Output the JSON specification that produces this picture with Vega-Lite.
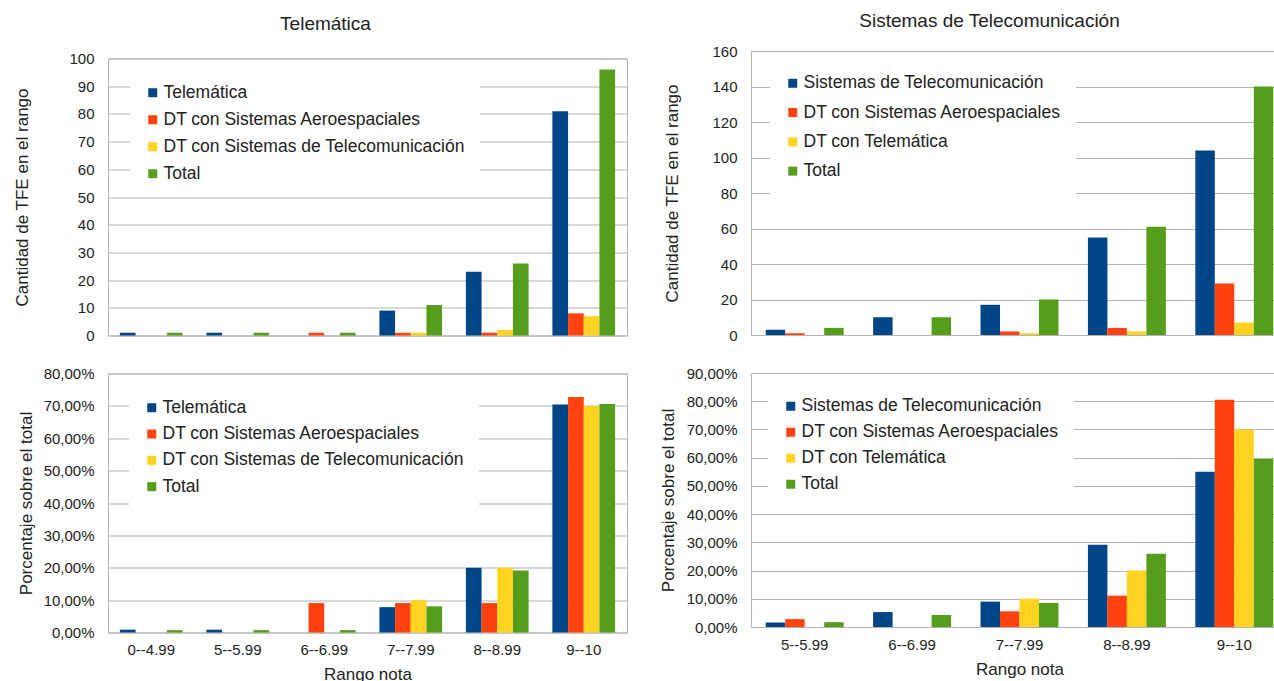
{
  "$schema": "https://vega.github.io/schema/vega-lite/v6.json",
  "padding": {"left": 13, "top": 11, "right": 0, "bottom": 0},
  "background": "white",
  "datasets": {
    "tl": [
      {"rango": "0--4.99", "serie": "Telemática", "valor": 1},
      {"rango": "0--4.99", "serie": "DT con Sistemas Aeroespaciales", "valor": 0},
      {"rango": "0--4.99", "serie": "DT con Sistemas de Telecomunicación", "valor": 0},
      {"rango": "0--4.99", "serie": "Total", "valor": 1},
      {"rango": "5--5.99", "serie": "Telemática", "valor": 1},
      {"rango": "5--5.99", "serie": "DT con Sistemas Aeroespaciales", "valor": 0},
      {"rango": "5--5.99", "serie": "DT con Sistemas de Telecomunicación", "valor": 0},
      {"rango": "5--5.99", "serie": "Total", "valor": 1},
      {"rango": "6--6.99", "serie": "Telemática", "valor": 0},
      {"rango": "6--6.99", "serie": "DT con Sistemas Aeroespaciales", "valor": 1},
      {"rango": "6--6.99", "serie": "DT con Sistemas de Telecomunicación", "valor": 0},
      {"rango": "6--6.99", "serie": "Total", "valor": 1},
      {"rango": "7--7.99", "serie": "Telemática", "valor": 9},
      {"rango": "7--7.99", "serie": "DT con Sistemas Aeroespaciales", "valor": 1},
      {"rango": "7--7.99", "serie": "DT con Sistemas de Telecomunicación", "valor": 1},
      {"rango": "7--7.99", "serie": "Total", "valor": 11},
      {"rango": "8--8.99", "serie": "Telemática", "valor": 23},
      {"rango": "8--8.99", "serie": "DT con Sistemas Aeroespaciales", "valor": 1},
      {"rango": "8--8.99", "serie": "DT con Sistemas de Telecomunicación", "valor": 2},
      {"rango": "8--8.99", "serie": "Total", "valor": 26},
      {"rango": "9--10", "serie": "Telemática", "valor": 81},
      {"rango": "9--10", "serie": "DT con Sistemas Aeroespaciales", "valor": 8},
      {"rango": "9--10", "serie": "DT con Sistemas de Telecomunicación", "valor": 7},
      {"rango": "9--10", "serie": "Total", "valor": 96}
    ],
    "bl": [
      {"rango": "0--4.99", "serie": "Telemática", "valor": 0.0087},
      {"rango": "0--4.99", "serie": "DT con Sistemas Aeroespaciales", "valor": 0},
      {"rango": "0--4.99", "serie": "DT con Sistemas de Telecomunicación", "valor": 0},
      {"rango": "0--4.99", "serie": "Total", "valor": 0.0074},
      {"rango": "5--5.99", "serie": "Telemática", "valor": 0.0087},
      {"rango": "5--5.99", "serie": "DT con Sistemas Aeroespaciales", "valor": 0},
      {"rango": "5--5.99", "serie": "DT con Sistemas de Telecomunicación", "valor": 0},
      {"rango": "5--5.99", "serie": "Total", "valor": 0.0074},
      {"rango": "6--6.99", "serie": "Telemática", "valor": 0},
      {"rango": "6--6.99", "serie": "DT con Sistemas Aeroespaciales", "valor": 0.0909},
      {"rango": "6--6.99", "serie": "DT con Sistemas de Telecomunicación", "valor": 0},
      {"rango": "6--6.99", "serie": "Total", "valor": 0.0074},
      {"rango": "7--7.99", "serie": "Telemática", "valor": 0.0783},
      {"rango": "7--7.99", "serie": "DT con Sistemas Aeroespaciales", "valor": 0.0909},
      {"rango": "7--7.99", "serie": "DT con Sistemas de Telecomunicación", "valor": 0.10},
      {"rango": "7--7.99", "serie": "Total", "valor": 0.0809},
      {"rango": "8--8.99", "serie": "Telemática", "valor": 0.20},
      {"rango": "8--8.99", "serie": "DT con Sistemas Aeroespaciales", "valor": 0.0909},
      {"rango": "8--8.99", "serie": "DT con Sistemas de Telecomunicación", "valor": 0.20},
      {"rango": "8--8.99", "serie": "Total", "valor": 0.1912},
      {"rango": "9--10", "serie": "Telemática", "valor": 0.7043},
      {"rango": "9--10", "serie": "DT con Sistemas Aeroespaciales", "valor": 0.7273},
      {"rango": "9--10", "serie": "DT con Sistemas de Telecomunicación", "valor": 0.70},
      {"rango": "9--10", "serie": "Total", "valor": 0.7059}
    ],
    "tr": [
      {"rango": "5--5.99", "serie": "Sistemas de Telecomunicación", "valor": 3},
      {"rango": "5--5.99", "serie": "DT con Sistemas Aeroespaciales", "valor": 1},
      {"rango": "5--5.99", "serie": "DT con Telemática", "valor": 0},
      {"rango": "5--5.99", "serie": "Total", "valor": 4},
      {"rango": "6--6.99", "serie": "Sistemas de Telecomunicación", "valor": 10},
      {"rango": "6--6.99", "serie": "DT con Sistemas Aeroespaciales", "valor": 0},
      {"rango": "6--6.99", "serie": "DT con Telemática", "valor": 0},
      {"rango": "6--6.99", "serie": "Total", "valor": 10},
      {"rango": "7--7.99", "serie": "Sistemas de Telecomunicación", "valor": 17},
      {"rango": "7--7.99", "serie": "DT con Sistemas Aeroespaciales", "valor": 2},
      {"rango": "7--7.99", "serie": "DT con Telemática", "valor": 1},
      {"rango": "7--7.99", "serie": "Total", "valor": 20},
      {"rango": "8--8.99", "serie": "Sistemas de Telecomunicación", "valor": 55},
      {"rango": "8--8.99", "serie": "DT con Sistemas Aeroespaciales", "valor": 4},
      {"rango": "8--8.99", "serie": "DT con Telemática", "valor": 2},
      {"rango": "8--8.99", "serie": "Total", "valor": 61},
      {"rango": "9--10", "serie": "Sistemas de Telecomunicación", "valor": 104},
      {"rango": "9--10", "serie": "DT con Sistemas Aeroespaciales", "valor": 29},
      {"rango": "9--10", "serie": "DT con Telemática", "valor": 7},
      {"rango": "9--10", "serie": "Total", "valor": 140}
    ],
    "br": [
      {"rango": "5--5.99", "serie": "Sistemas de Telecomunicación", "valor": 0.0159},
      {"rango": "5--5.99", "serie": "DT con Sistemas Aeroespaciales", "valor": 0.0278},
      {"rango": "5--5.99", "serie": "DT con Telemática", "valor": 0},
      {"rango": "5--5.99", "serie": "Total", "valor": 0.0170},
      {"rango": "6--6.99", "serie": "Sistemas de Telecomunicación", "valor": 0.0529},
      {"rango": "6--6.99", "serie": "DT con Sistemas Aeroespaciales", "valor": 0},
      {"rango": "6--6.99", "serie": "DT con Telemática", "valor": 0},
      {"rango": "6--6.99", "serie": "Total", "valor": 0.0426},
      {"rango": "7--7.99", "serie": "Sistemas de Telecomunicación", "valor": 0.0899},
      {"rango": "7--7.99", "serie": "DT con Sistemas Aeroespaciales", "valor": 0.0556},
      {"rango": "7--7.99", "serie": "DT con Telemática", "valor": 0.10},
      {"rango": "7--7.99", "serie": "Total", "valor": 0.0851},
      {"rango": "8--8.99", "serie": "Sistemas de Telecomunicación", "valor": 0.2910},
      {"rango": "8--8.99", "serie": "DT con Sistemas Aeroespaciales", "valor": 0.1111},
      {"rango": "8--8.99", "serie": "DT con Telemática", "valor": 0.20},
      {"rango": "8--8.99", "serie": "Total", "valor": 0.2596},
      {"rango": "9--10", "serie": "Sistemas de Telecomunicación", "valor": 0.5503},
      {"rango": "9--10", "serie": "DT con Sistemas Aeroespaciales", "valor": 0.8056},
      {"rango": "9--10", "serie": "DT con Telemática", "valor": 0.70},
      {"rango": "9--10", "serie": "Total", "valor": 0.5957}
    ]
  },
  "align": "none",
  "spacing": 30,
  "resolve": {"scale": {"color": "independent", "x": "independent", "y": "independent", "xOffset": "independent"}, "legend": {"color": "independent"}},
  "hconcat": [
    {
      "spacing": -1.5,
      "resolve": {"scale": {"color": "independent", "x": "independent", "y": "independent", "xOffset": "independent"}, "legend": {"color": "independent"}},
      "vconcat": [
        {
          "data": {"values": []},
          "width": 519,
          "height": 1,
          "view": {"stroke": null},
          "title": {"text": "Telemática", "offset": 17, "dx": -42},
          "mark": {"type": "point"},
          "encoding": {}
        },
        {
          "spacing": 21,
          "resolve": {"scale": {"color": "independent", "x": "independent", "y": "independent", "xOffset": "independent"}, "legend": {"color": "independent"}},
          "vconcat": [
            {
              "data": {"name": "tl"},
              "width": 519,
              "height": 277,
              "mark": {"type": "bar"},
              "encoding": {
                "x": {"field": "rango", "type": "nominal", "sort": ["0--4.99", "5--5.99", "6--6.99", "7--7.99", "8--8.99", "9--10"], "scale": {"paddingInner": 0.275, "paddingOuter": 0.1375}, "axis": null},
                "xOffset": {"field": "serie", "type": "nominal", "scale": {"domain": ["Telemática", "DT con Sistemas Aeroespaciales", "DT con Sistemas de Telecomunicación", "Total"], "paddingInner": 0, "paddingOuter": 0}},
                "y": {"field": "valor", "type": "quantitative", "scale": {"domain": [0, 100], "nice": false}, "axis": {"title": "Cantidad de TFE en el rango", "values": [0, 10, 20, 30, 40, 50, 60, 70, 80, 90, 100], "titlePadding": 37}},
                "color": {"field": "serie", "type": "nominal", "scale": {"domain": ["Telemática", "DT con Sistemas Aeroespaciales", "DT con Sistemas de Telecomunicación", "Total"], "range": ["#004586", "#ff420e", "#ffd320", "#579d1c"]}, "legend": {"title": null, "orient": "none", "legendX": 22, "legendY": 11.5, "rowPadding": 8}}
              }
            },
            {
              "data": {"name": "bl"},
              "width": 519,
              "height": 259,
              "mark": {"type": "bar"},
              "encoding": {
                "x": {"field": "rango", "type": "nominal", "sort": ["0--4.99", "5--5.99", "6--6.99", "7--7.99", "8--8.99", "9--10"], "scale": {"paddingInner": 0.275, "paddingOuter": 0.1375}, "axis": {"title": "Rango nota"}},
                "xOffset": {"field": "serie", "type": "nominal", "scale": {"domain": ["Telemática", "DT con Sistemas Aeroespaciales", "DT con Sistemas de Telecomunicación", "Total"], "paddingInner": 0, "paddingOuter": 0}},
                "y": {"field": "valor", "type": "quantitative", "scale": {"domain": [0, 0.8], "nice": false}, "axis": {"title": "Porcentaje sobre el total", "values": [0, 0.1, 0.2, 0.3, 0.4, 0.5, 0.6, 0.7, 0.8], "labelExpr": "replace(format(datum.value, '.2%'), '.', ',')", "titlePadding": 8}},
                "color": {"field": "serie", "type": "nominal", "scale": {"domain": ["Telemática", "DT con Sistemas Aeroespaciales", "DT con Sistemas de Telecomunicación", "Total"], "range": ["#004586", "#ff420e", "#ffd320", "#579d1c"]}, "legend": {"title": null, "orient": "none", "legendX": 21, "legendY": 11.5, "rowPadding": 7.3}}
              }
            }
          ]
        }
      ]
    },
    {
      "spacing": 21,
      "resolve": {"scale": {"color": "independent", "x": "independent", "y": "independent", "xOffset": "independent"}, "legend": {"color": "independent"}},
      "vconcat": [
        {
          "data": {"name": "tr"},
          "width": 537,
          "height": 284,
          "title": {"text": "Sistemas de Telecomunicación", "offset": 13.5, "dx": -30},
          "mark": {"type": "bar"},
          "encoding": {
            "x": {"field": "rango", "type": "nominal", "sort": ["5--5.99", "6--6.99", "7--7.99", "8--8.99", "9--10"], "scale": {"paddingInner": 0.274, "paddingOuter": 0.137}, "axis": null},
            "xOffset": {"field": "serie", "type": "nominal", "scale": {"domain": ["Sistemas de Telecomunicación", "DT con Sistemas Aeroespaciales", "DT con Telemática", "Total"], "paddingInner": 0, "paddingOuter": 0}},
            "y": {"field": "valor", "type": "quantitative", "scale": {"domain": [0, 160], "nice": false}, "axis": {"title": "Cantidad de TFE en el rango", "values": [0, 20, 40, 60, 80, 100, 120, 140, 160], "titlePadding": 30}},
            "color": {"field": "serie", "type": "nominal", "scale": {"domain": ["Sistemas de Telecomunicación", "DT con Sistemas Aeroespaciales", "DT con Telemática", "Total"], "range": ["#004586", "#ff420e", "#ffd320", "#579d1c"]}, "legend": {"title": null, "orient": "none", "legendX": 19, "legendY": 9.5, "rowPadding": 10.3}}
          }
        },
        {
          "data": {"name": "br"},
          "width": 537,
          "height": 254,
          "mark": {"type": "bar"},
          "encoding": {
            "x": {"field": "rango", "type": "nominal", "sort": ["5--5.99", "6--6.99", "7--7.99", "8--8.99", "9--10"], "scale": {"paddingInner": 0.274, "paddingOuter": 0.137}, "axis": {"title": "Rango nota"}},
            "xOffset": {"field": "serie", "type": "nominal", "scale": {"domain": ["Sistemas de Telecomunicación", "DT con Sistemas Aeroespaciales", "DT con Telemática", "Total"], "paddingInner": 0, "paddingOuter": 0}},
            "y": {"field": "valor", "type": "quantitative", "scale": {"domain": [0, 0.9], "nice": false}, "axis": {"title": "Porcentaje sobre el total", "values": [0, 0.1, 0.2, 0.3, 0.4, 0.5, 0.6, 0.7, 0.8, 0.9], "labelExpr": "replace(format(datum.value, '.2%'), '.', ',')", "titlePadding": 9}},
            "color": {"field": "serie", "type": "nominal", "scale": {"domain": ["Sistemas de Telecomunicación", "DT con Sistemas Aeroespaciales", "DT con Telemática", "Total"], "range": ["#004586", "#ff420e", "#ffd320", "#579d1c"]}, "legend": {"title": null, "orient": "none", "legendX": 17, "legendY": 10.5, "rowPadding": 7}}
          }
        }
      ]
    }
  ],
  "config": {
    "font": "Liberation Sans",
    "view": {"stroke": "#b3b3b3", "strokeWidth": 1},
    "axis": {"labelFontSize": 15, "titleFontSize": 17, "titleFontWeight": "normal", "labelColor": "#222222", "titleColor": "#222222", "domain": false, "ticks": false, "gridColor": "#b3b3b3", "gridOpacity": 1},
    "axisY": {"labelPadding": 14},
    "axisX": {"labelPadding": 10, "titlePadding": 9, "labelAngle": 0},
    "legend": {"labelFontSize": 17.5, "labelColor": "#222222", "symbolType": "square", "symbolSize": 81, "symbolStrokeWidth": 0, "symbolOpacity": 1, "fillColor": "white", "padding": 14, "labelLimit": 600, "labelOffset": 2},
    "title": {"fontSize": 19, "fontWeight": "normal", "color": "#222222", "anchor": "middle"},
    "bar": {"stroke": null}
  }
}
